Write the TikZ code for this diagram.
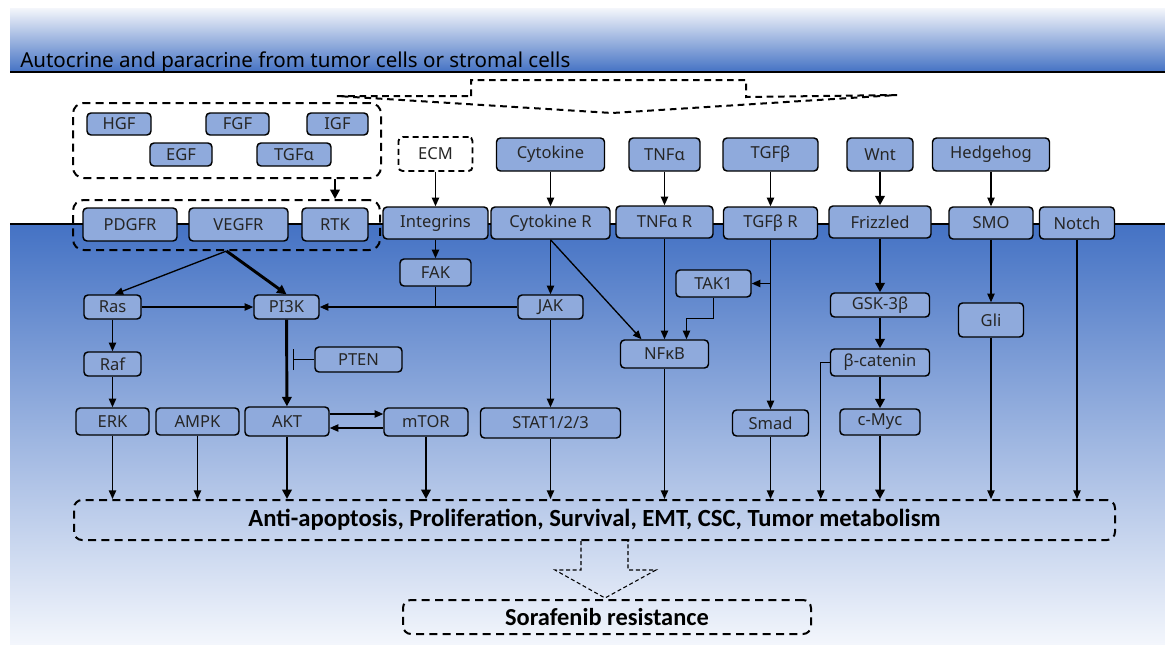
\documentclass[tikz,border=0pt]{standalone}
\usepackage{fontspec}
\setmainfont{Noto Sans}
\newfontfamily\calfont{Carlito}
\usetikzlibrary{arrows.meta,calc}
\definecolor{boxblue}{HTML}{8FAADC}
\definecolor{deepblue}{HTML}{4472C4}
\definecolor{paleblue}{HTML}{F3F6FC}
\definecolor{bandtop}{HTML}{F4F6FB}
\begin{document}
\begin{tikzpicture}[x=0.75pt,y=-0.75pt,
  bx/.style 2 args={draw=black, line width=1.1pt, fill=boxblue, rounded corners=3pt,
    inner sep=0pt, minimum width=#1*0.75pt, minimum height=#2*0.75pt,
    font=\fontsize{12.4}{14}\selectfont, text=black!85},
  grp/.style 2 args={draw=black, line width=1.5pt, dash pattern=on 6pt off 4pt,
    rounded corners=8pt, inner sep=0pt, minimum width=#1*0.75pt, minimum height=#2*0.75pt},
  ar/.style={line width=1pt, -{Triangle[length=6.5pt,width=5.5pt]}},
  tk/.style={line width=2.2pt, -{Triangle[length=7pt,width=7pt]}},
  ln/.style={line width=1pt},
  dsh/.style={line width=1.5pt, dash pattern=on 5pt off 3.5pt},
  thd/.style={line width=0.8pt, dash pattern=on 3pt off 2pt}]
\path[use as bounding box, fill=white] (0,0) rectangle (1165,644);
% backgrounds
\shade[top color=bandtop, bottom color=deepblue] (10,8) rectangle (1165,72);
\draw[line width=0.8pt] (10,72) -- (1165,72);
\shade[top color=deepblue, bottom color=paleblue] (10,224) rectangle (1165,644);
\draw[line width=1.5pt] (10,224) -- (1165,224);
\node[anchor=base west, inner sep=0pt, font=\fontsize{15.4}{17}\selectfont] (title) at (20,67)
  {Autocrine and paracrine from tumor cells or stromal cells};
% top hollow dashed arrow
\draw[dsh] (471,96) -- (471,80) -- (746,80) -- (746,97) -- (897,95) -- (612,113) -- (337,96) -- cycle;
% groups
\node[grp={308}{75}] (gfgrp) at (227,140.5) {};
\node[grp={307}{50}] (rgrp) at (226.5,225) {};
% growth factors
\node[bx={64}{22}] (hgf) at (119,124) {HGF};
\node[bx={63}{22}] (fgf) at (237.5,124) {FGF};
\node[bx={61}{22}] (igf) at (337.5,124) {IGF};
\node[bx={62}{23}] (egf) at (181,154.5) {EGF};
\node[bx={74}{23}] (tgfa) at (294,154.5) {TGFα};
% ligands
\node[bx={74}{34}, fill=white, dash pattern=on 4.5pt off 3pt, line width=1.4pt] (ecm) at (435.5,154) {ECM};
\node[bx={108}{33}] (cyto) at (550.5,154.5) {Cytokine};
\node[bx={71}{33}] (tnfa) at (664.5,154.5) {TNFα};
\node[bx={95}{33}] (tgfb) at (770.5,154.5) {TGFβ};
\node[bx={66}{33}] (wnt) at (880,154.5) {Wnt};
\node[bx={117}{33}] (hh) at (991,154.5) {Hedgehog};
% receptors
\node[bx={94}{33}] (pdgfr) at (130,224.5) {PDGFR};
\node[bx={99}{33}] (vegfr) at (238.5,224.5) {VEGFR};
\node[bx={66}{33}] (rtk) at (335,224.5) {RTK};
\node[bx={105}{32}] (integ) at (435.5,223) {Integrins};
\node[bx={119}{32}] (cytor) at (550.5,223) {Cytokine R};
\node[bx={97}{32}] (tnfar) at (664.5,222) {TNFα R};
\node[bx={94}{32}] (tgfbr) at (770.5,223) {TGFβ R};
\node[bx={102}{32}] (friz) at (880,222) {Frizzled};
\node[bx={84}{32}] (smo) at (991,223) {SMO};
\node[bx={75}{32}] (notch) at (1077,223) {Notch};
% intracellular
\node[bx={57}{24}] (ras) at (112.5,307) {Ras};
\node[bx={65}{24}] (pi3k) at (286.5,307) {PI3K};
\node[bx={71}{27}] (fak) at (435.5,272.5) {FAK};
\node[bx={65}{24}] (jak) at (550.5,307) {JAK};
\node[bx={75}{27}] (tak1) at (713.5,283.5) {TAK1};
\node[bx={88}{28}] (nfkb) at (664.5,354) {NFκB};
\node[bx={99}{24}] (gsk) at (880,305) {GSK-3β};
\node[bx={65}{34}] (gli) at (991,320) {Gli};
\node[bx={57}{24}] (raf) at (112.5,364) {Raf};
\node[bx={87}{25}] (pten) at (358.5,359.5) {PTEN};
\node[bx={99}{27}] (bcat) at (880,362.5) {β-catenin};
\node[bx={73}{27}] (erk) at (112.5,421.5) {ERK};
\node[bx={83}{27}] (ampk) at (197.5,421.5) {AMPK};
\node[bx={84}{29}] (akt) at (287,421.5) {AKT};
\node[bx={84}{28}] (mtor) at (426,422) {mTOR};
\node[bx={140}{30}] (stat) at (550.5,423) {STAT1/2/3};
\node[bx={76}{26}] (smad) at (770.5,423) {Smad};
\node[bx={80}{26}] (cmyc) at (880,422) {c-Myc};
% outcome
\node[grp={1041}{40}, rounded corners=6pt, font=\calfont\bfseries\fontsize{18.5}{20}\selectfont] (outc) at (594.5,520)
  {Anti-apoptosis, Proliferation, Survival, EMT, CSC, Tumor metabolism};
\node[grp={408}{34}, rounded corners=6pt, font=\calfont\bfseries\fontsize{18.3}{20}\selectfont] (sora) at (607,617)
  {Sorafenib resistance};
% hollow arrow outcome -> sorafenib
\draw[thd] (581,541) -- (581,570) -- (555,570) -- (605,598) -- (656,570) -- (628,570) -- (628,541);
% connectors: ligands -> receptors
\draw[tk] (gfgrp.south -| rtk) -- (rgrp.north -| rtk);
\draw[ar] (ecm) -- (integ);
\draw[ar] (cyto) -- (cytor);
\draw[ar] (tnfa) -- (tnfar);
\draw[ar] (tgfb) -- (tgfbr);
\draw[tk] (wnt) -- (friz);
\draw[ar] (hh) -- (smo);
% RTK branch
\draw[ar] (rgrp.south) -- ($(ras.north)+(2,0)$);
\draw[tk] (rgrp.south) -- (pi3k.north);
\draw[ar] (ras) -- (pi3k);
\draw[ar] (ras) -- (raf);
\draw[ar] (raf) -- (erk);
\draw[tk] (pi3k) -- (akt);
\coordinate (ptenbar) at (293,359.5);
\draw[ln, -{Bar[width=16pt]}] (pten.west) -- (ptenbar);
\draw[ar] (akt.east |- 0,414) -- (mtor.west |- 0,414);
\draw[ar] (mtor.west |- 0,428) -- (akt.east |- 0,428);
% integrins / cytokine
\draw[ar] (integ) -- (fak);
\draw[ln] (fak.south) -- (fak.south |- pi3k.east);
\draw[ar] (jak.west) -- (pi3k.east);
\draw[ar] (cytor) -- (jak);
\draw[ar] (jak) -- (stat);
\draw[ar] (cytor.south) -- ($(nfkb.north)+(-23,0)$);
\draw[ar] (tnfar) -- (nfkb);
% TGF beta
\draw[ar] (tgfbr) -- (smad);
\draw[ar] (tgfbr.south |- tak1.east) -- (tak1.east);
\draw[ar] (tak1.south) -- ++(0,21) -| ($(nfkb.north)+(22,0)$);
% Wnt
\draw[tk] (friz) -- (gsk);
\draw[tk] (gsk) -- (bcat);
\draw[tk] (bcat) -- (cmyc);
\draw[ar] (bcat.west) -- ++(-9,0) coordinate (bc1) -- (bc1 |- outc.north);
% Hedgehog
\draw[ar] (smo) -- (gli);
% to outcome
\draw[ar] (erk) -- (erk |- outc.north);
\draw[ar] (ampk) -- (ampk |- outc.north);
\draw[tk] (akt) -- (akt |- outc.north);
\draw[tk] (mtor) -- (mtor |- outc.north);
\draw[ar] (stat) -- (stat |- outc.north);
\draw[ar] (nfkb) -- (nfkb |- outc.north);
\draw[ar] (smad) -- (smad |- outc.north);
\draw[tk] (cmyc) -- (cmyc |- outc.north);
\draw[ar] (gli) -- (gli |- outc.north);
\draw[ar] (notch) -- (notch |- outc.north);
\end{tikzpicture}
\end{document}
